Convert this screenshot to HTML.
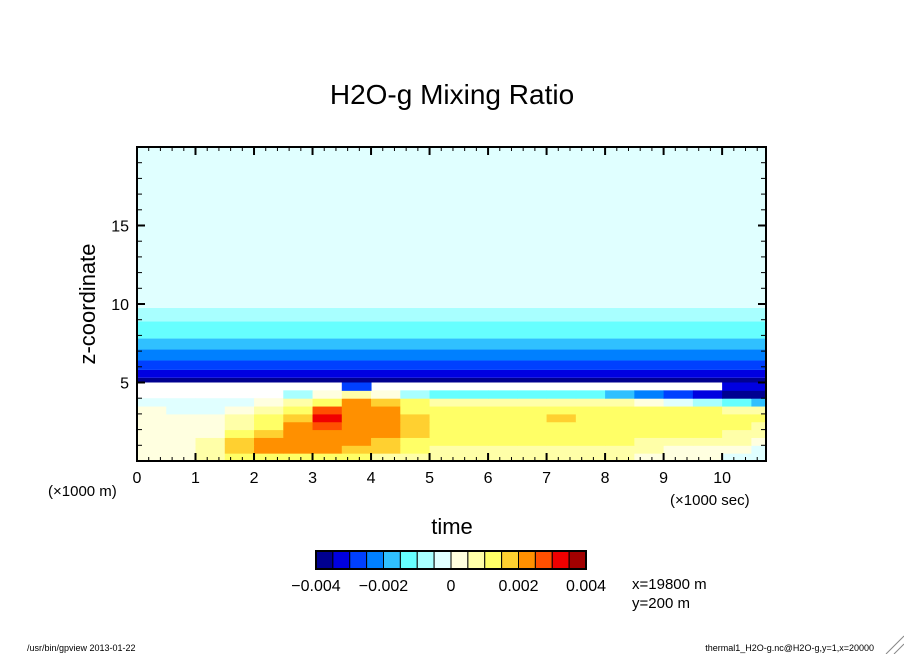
<!DOCTYPE html>
<html><head><meta charset="utf-8"><style>
html,body{margin:0;padding:0;background:#fff;}
svg{display:block;font-family:"Liberation Sans",sans-serif;}
</style></head><body>
<svg id="c" width="904" height="654" viewBox="0 0 904 654">
<text x="452" y="104" font-size="28" text-anchor="middle">H2O-g Mixing Ratio</text>
<g id="plot"></g>
<g id="axes"></g>
<text x="95" y="304" font-size="22" text-anchor="middle" transform="rotate(-90 95 304)">z-coordinate</text>
<text x="452" y="534" font-size="22" text-anchor="middle">time</text>
<text x="48" y="496" font-size="15">(×1000 m)</text>
<text x="670" y="505" font-size="15">(×1000 sec)</text>
<g id="cbar"></g>
<text x="632" y="589" font-size="15">x=19800 m</text>
<text x="632" y="608" font-size="15">y=200 m</text>
<text x="27" y="651" font-size="9">/usr/bin/gpview  2013-01-22</text>
<text x="874" y="651" font-size="9" text-anchor="end">thermal1_H2O-g.nc@H2O-g,y=1,x=20000</text>
<line x1="886" y1="654" x2="904" y2="636" stroke="#888"/>
<line x1="894" y1="654" x2="904" y2="644" stroke="#888"/>
</svg>
<script>
const levelColors=["#000090","#0000e0","#0040ff","#0080ff","#30c0ff","#66ffff","#a8ffff","#e0ffff","#ffffe0","#ffffa8","#ffff66","#ffd030","#ff9000","#ff5000","#f00000","#a00000"];
const cbarLabels=["-0.004","-0.002","0","0.002","0.004"];
const xTicks=[0,1,2,3,4,5,6,7,8,9,10];
const yTicks=[5,10,15];
// upper horizontal bands: [zBottom, zTop, level]
const bandBottoms=[5.0,5.3,5.8,6.4,7.1,7.8,8.9,9.75];
const bandTops=[5.3,5.8,6.4,7.1,7.8,8.9,9.75,20];
const bandLevels=[0,1,2,3,4,5,6,7];
// lower grid: rows z 0..5 step 0.5, cols t 0..11 step 0.5, -1 = white
const gridRows=[
[8,8,9,10,10,10,10,10,9,9,9,9,9,9,9,9,9,8,8,8,7,7],
[8,8,9,11,12,12,12,11,11,10,9,9,9,9,9,9,9,9,8,8,8,7],
[8,8,9,11,12,12,12,12,11,10,10,10,10,10,10,10,10,9,9,9,9,8],
[8,8,8,10,11,12,12,12,12,11,10,10,10,10,10,10,10,10,10,10,9,9],
[8,8,8,9,10,12,13,12,12,11,10,10,10,10,10,10,10,10,10,10,10,9],
[8,8,8,9,10,11,14,12,12,11,10,10,10,10,11,10,10,10,10,10,10,10],
[8,7,7,8,9,10,13,12,12,10,10,10,10,10,10,10,10,10,10,10,9,9],
[7,7,7,7,8,9,10,12,11,10,9,9,9,9,9,9,9,8,7,6,5,4],
[-1,-1,-1,-1,-1,6,8,9,8,6,5,5,5,5,5,5,4,3,2,1,0,0],
[-1,-1,-1,-1,-1,-1,-1,2,-1,-1,-1,-1,-1,-1,-1,-1,-1,-1,-1,-1,1,1]
];
const dz=0.5, dt=0.5, tMax=10.75, zMax=20;
const X0=137,X1=766,Y0=461,Y1=147;
const sx=t=>X0+(t/tMax)*(X1-X0);
const sy=z=>Y0-(z/zMax)*(Y0-Y1);
const NS="http://www.w3.org/2000/svg";
function mk(tag,attrs,parent){const e=document.createElementNS(NS,tag);for(const k in attrs)e.setAttribute(k,attrs[k]);parent.appendChild(e);return e;}
const plot=document.getElementById('plot'), axes=document.getElementById('axes'), cbar=document.getElementById('cbar');
mk('rect',{x:X0,y:Y1,width:X1-X0,height:Y0-Y1,fill:'#fff'},plot);
bandLevels.forEach((lv,i)=>{
 const r=mk('rect',{x:X0,y:sy(bandTops[i]),width:X1-X0,height:sy(bandBottoms[i])-sy(bandTops[i]),fill:levelColors[lv]},plot);
 
 
});
gridRows.forEach((row,ri)=>{row.forEach((lv,ci)=>{
 if(lv<0)return;
 const t0=ci*dt, t1=Math.min(tMax,(ci+1)*dt);
 const r=mk('rect',{x:sx(t0),y:sy((ri+1)*dz),width:sx(t1)-sx(t0)+0.5,height:sy(ri*dz)-sy((ri+1)*dz)+0.5,fill:levelColors[lv]},plot);
 
 
});});
mk('rect',{x:X0,y:Y1,width:X1-X0,height:Y0-Y1,fill:'none',stroke:'#000','stroke-width':2},axes);
for(let t=0;t<=tMax+1e-9;t+=0.2){const major=Math.abs(t-Math.round(t))<1e-6;const L=major?8:4;
 mk('line',{x1:sx(t),y1:Y0,x2:sx(t),y2:Y0-L,stroke:'#000','stroke-width':major?2:1},axes);
 mk('line',{x1:sx(t),y1:Y1,x2:sx(t),y2:Y1+L,stroke:'#000','stroke-width':major?2:1},axes);}
for(let z=1;z<zMax;z++){const major=z%5===0;const L=major?8:5;
 mk('line',{x1:X0,y1:sy(z),x2:X0+L,y2:sy(z),stroke:'#000','stroke-width':major?2:1},axes);
 mk('line',{x1:X1,y1:sy(z),x2:X1-L,y2:sy(z),stroke:'#000','stroke-width':major?2:1},axes);}
xTicks.forEach(t=>{const e=mk('text',{x:sx(t),y:Y0+22,'font-size':16,'text-anchor':'middle'},axes);e.textContent=t;
 
 });
yTicks.forEach(z=>{const e=mk('text',{x:X0-8,y:sy(z)+6,'font-size':16,'text-anchor':'end'},axes);e.textContent=z;
 
 });
const CB0=316,CB1=586,CBY=551,CBH=18,bw=(CB1-CB0)/levelColors.length;
levelColors.forEach((c,i)=>{const r=mk('rect',{x:CB0+i*bw,y:CBY,width:bw,height:CBH,fill:c,stroke:'#000','stroke-width':1},cbar);
 
 });
mk('rect',{x:CB0,y:CBY,width:CB1-CB0,height:CBH,fill:'none',stroke:'#000','stroke-width':2},cbar);
cbarLabels.forEach((l,i)=>{const e=mk('text',{x:CB0+i*(CB1-CB0)/(cbarLabels.length-1),y:CBY+40,'font-size':16,'text-anchor':'middle'},cbar);e.textContent=l.replace('-','\u2212');
 
 });
</script>
</body></html>
